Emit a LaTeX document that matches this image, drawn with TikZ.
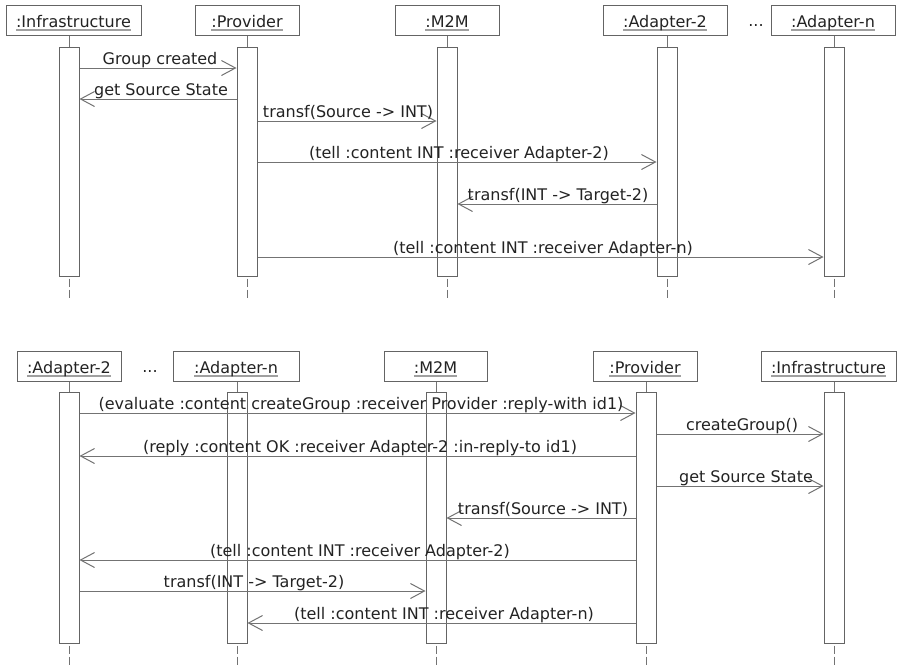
\documentclass[tikz,border=0pt]{standalone}
\usepackage{fontspec}
\setmainfont{DejaVu Sans}
\usetikzlibrary{arrows.meta}
\definecolor{linec}{RGB}{115,115,115}
\definecolor{boxc}{RGB}{100,100,100}
\definecolor{txtc}{RGB}{35,35,35}
\definecolor{ulc}{RGB}{160,160,160}
\newlength\objulw
\newcommand\objname[1]{\settowidth\objulw{#1}\makebox[0pt][l]{\smash{\color{ulc}\rule[-3.5pt]{\objulw}{1.2pt}}}#1}
\begin{document}
\begin{tikzpicture}[x=1pt,y=-1pt,
  fnt/.style={font=\fontsize{16}{19}\selectfont, text=txtc},
  head/.style={fnt, draw=boxc, line width=1pt, inner sep=0pt, minimum height=30pt, text height=22pt, text depth=8pt},
  bar/.style={draw=boxc, line width=1pt, minimum width=20pt, inner sep=0pt},
  msg/.style={draw=linec, line width=1pt, -{Straight Barb[length=14pt,width=15pt]}},
  lbl/.style={fnt, anchor=base, inner sep=0pt},
  life/.style={draw=linec, line width=1pt},
  lifedash/.style={draw=linec, line width=1pt, dash pattern=on 8pt off 3pt}]
\useasboundingbox (0,0) rectangle (897,665);
\fill[white] (0,0) rectangle (897,665);

% ---------------- top diagram ----------------
\node[head, minimum width=135pt] (tIh) at (73.5,20) {\objname{:Infrastructure}};
\node[head, minimum width=104pt] (tPh) at (247,20) {\objname{:Provider}};
\node[head, minimum width=104pt] (tMh) at (447,20) {\objname{:M2M}};
\node[head, minimum width=124pt] (tAh) at (665,20) {\objname{:Adapter-2}};
\node[lbl] (tdots) at (756,26) {...};
\node[head, minimum width=124pt] (tNh) at (833,20) {\objname{:Adapter-n}};

\node[bar, minimum height=229pt] (tIb) at (69,161.5) {};
\node[bar, minimum height=229pt] (tPb) at (247,161.5) {};
\node[bar, minimum height=229pt] (tMb) at (447,161.5) {};
\node[bar, minimum height=229pt] (tAb) at (667,161.5) {};
\node[bar, minimum height=229pt] (tNb) at (834,161.5) {};

\foreach \n in {tI,tP,tM,tA,tN}{
  \draw[life] (\n b.north) -- (\n b.north |- \n h.south);
  \draw[lifedash] ([yshift=-2pt]\n b.south) -- ++(0,19);
}

\draw[msg] (tIb.east |- 0,68) -- (tPb.west |- 0,68);
\node[lbl] (tm1) at (160,64) {Group created};
\draw[msg] (tPb.west |- 0,99) -- (tIb.east |- 0,99);
\node[lbl] (tm2) at (161,95) {get Source State};
\draw[msg] (tPb.east |- 0,121) -- (tMb.west |- 0,121);
\node[lbl] (tm3) at (348,117) {transf(Source -> INT)};
\draw[msg] (tPb.east |- 0,162) -- (tAb.west |- 0,162);
\node[lbl] (tm4) at (459,158) {(tell :content INT :receiver Adapter-2)};
\draw[msg] (tAb.west |- 0,204) -- (tMb.east |- 0,204);
\node[lbl] (tm5) at (558,200) {transf(INT -> Target-2)};
\draw[msg] (tPb.east |- 0,257) -- (tNb.west |- 0,257);
\node[lbl] (tm6) at (543,253) {(tell :content INT :receiver Adapter-n)};

% ---------------- bottom diagram ----------------
\node[head, minimum width=104pt] (bAh) at (69,366) {\objname{:Adapter-2}};
\node[lbl] (bdots) at (150,372) {...};
\node[head, minimum width=126pt] (bNh) at (236,366) {\objname{:Adapter-n}};
\node[head, minimum width=103pt] (bMh) at (435.5,366) {\objname{:M2M}};
\node[head, minimum width=104pt] (bPh) at (645,366) {\objname{:Provider}};
\node[head, minimum width=135pt] (bIh) at (828.5,366) {\objname{:Infrastructure}};

\node[bar, minimum height=251pt] (bAb) at (69,517.5) {};
\node[bar, minimum height=251pt] (bNb) at (237,517.5) {};
\node[bar, minimum height=251pt] (bMb) at (436,517.5) {};
\node[bar, minimum height=251pt] (bPb) at (646,517.5) {};
\node[bar, minimum height=251pt] (bIb) at (834,517.5) {};

\foreach \n in {bA,bN,bM,bP,bI}{
  \draw[life] (\n b.north) -- (\n b.north |- \n h.south);
  \draw[lifedash] ([yshift=-2pt]\n b.south) -- ++(0,19);
}

\draw[msg] (bAb.east |- 0,413) -- (bPb.west |- 0,413);
\node[lbl] (bm1) at (361,409) {(evaluate :content createGroup :receiver Provider :reply-with id1)};
\draw[msg] (bPb.east |- 0,434) -- (bIb.west |- 0,434);
\node[lbl] (bm2) at (742,430) {createGroup()};
\draw[msg] (bPb.west |- 0,456) -- (bAb.east |- 0,456);
\node[lbl] (bm3) at (360,452) {(reply :content OK :receiver Adapter-2 :in-reply-to id1)};
\draw[msg] (bPb.east |- 0,486) -- (bIb.west |- 0,486);
\node[lbl] (bm4) at (746,482) {get Source State};
\draw[msg] (bPb.west |- 0,518) -- (bMb.east |- 0,518);
\node[lbl] (bm5) at (543,514) {transf(Source -> INT)};
\draw[msg] (bPb.west |- 0,560) -- (bAb.east |- 0,560);
\node[lbl] (bm6) at (360,556) {(tell :content INT :receiver Adapter-2)};
\draw[msg] (bAb.east |- 0,591) -- (bMb.west |- 0,591);
\node[lbl] (bm7) at (254,587) {transf(INT -> Target-2)};
\draw[msg] (bPb.west |- 0,623) -- (bNb.east |- 0,623);
\node[lbl] (bm8) at (444,619) {(tell :content INT :receiver Adapter-n)};
\end{tikzpicture}
\end{document}
